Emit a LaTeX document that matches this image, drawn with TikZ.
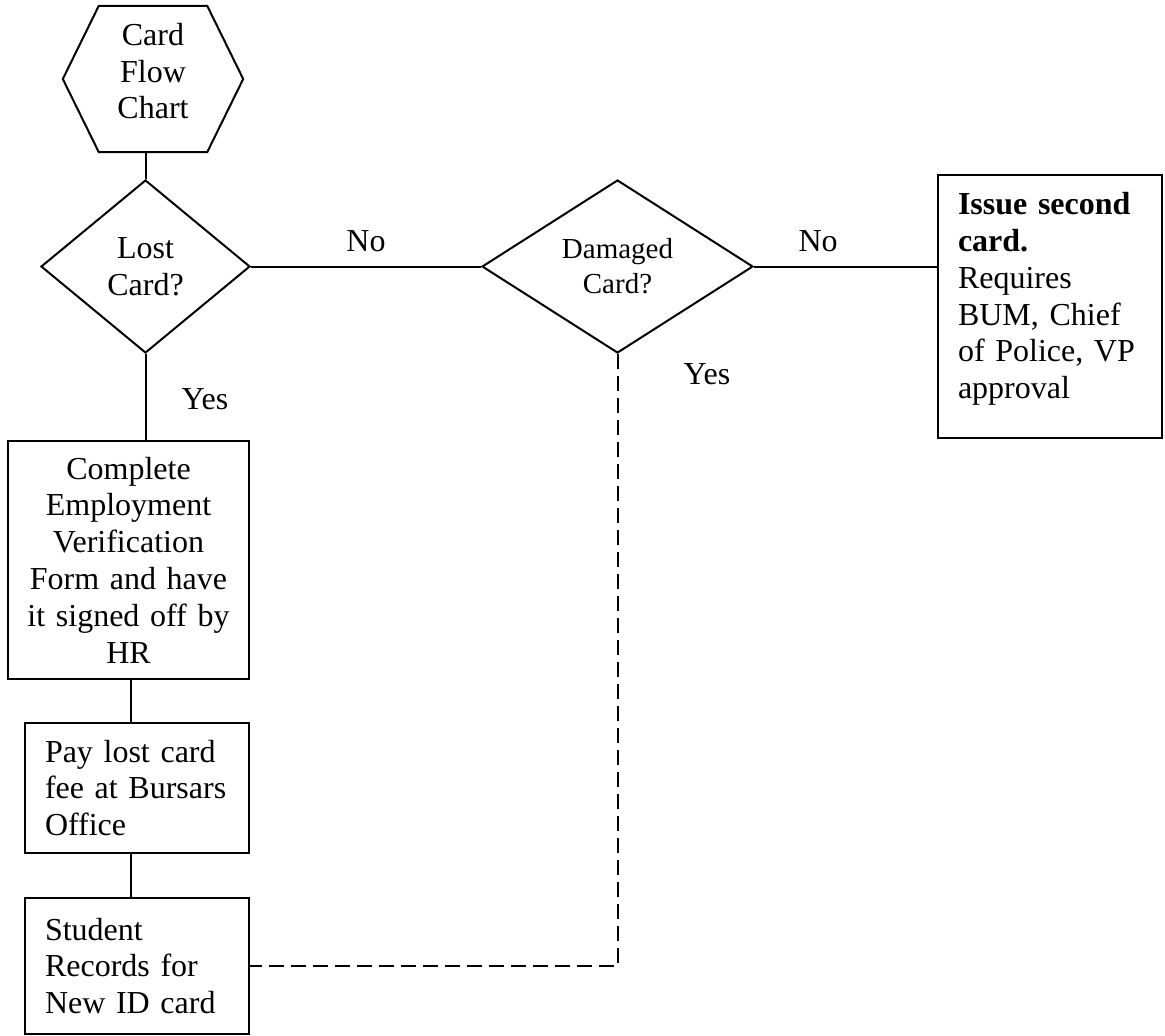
\documentclass[tikz,border=0pt]{standalone}
\usepackage{fontspec}
\setmainfont[WordSpace=0.8]{Liberation Serif}
\usetikzlibrary{shapes.geometric}
\begin{document}
\begin{tikzpicture}[x=1pt,y=-1pt,
  every node/.style={font=\fontsize{32}{36.8}\selectfont},
  conn/.style={line width=2pt},
  dashconn/.style={line width=2pt, dash pattern=on 15pt off 7pt},
  boxnode/.style={draw, line width=2pt, rectangle, inner ysep=0pt},
  decision/.style={draw, line width=2pt, diamond, inner sep=0pt, align=center},
  lbl/.style={inner sep=0pt}]
\useasboundingbox (0,0) rectangle (1165,1036);

% start hexagon
\node[inner sep=0pt, minimum width=180pt, minimum height=146pt, align=center] (start) at (153,79) {Card\\Flow\\Chart\rule[-16pt]{0pt}{0pt}};
\draw[conn, line join=miter] (start.west) -- ([xshift=36pt]start.north west) -- ([xshift=-36pt]start.north east) -- (start.east) -- ([xshift=-36pt]start.south east) -- ([xshift=36pt]start.south west) -- cycle;

% decisions
\node[decision, minimum width=209pt, minimum height=173pt] (lost) at (145.5,266.5) {Lost\\Card?};
\node[decision, minimum width=271pt, minimum height=173pt, font=\fontsize{29}{35}\selectfont] (damaged) at (617.5,266.5) {Damaged\\Card?};

% boxes
\node[boxnode, minimum width=224pt, minimum height=263pt, inner xsep=20pt, text width=184pt, align=left] (issue) at (1050,306.5) {\textbf{Issue second}\\\textbf{card.}\\Requires\\BUM, Chief\\of Police, VP\\approval\rule[-22pt]{0pt}{0pt}};
\node[boxnode, minimum width=241pt, minimum height=238pt, inner xsep=10pt, text width=221pt, align=center] (complete) at (128.5,560) {Complete\\Employment\\Verification\\Form and have\\it signed off by\\HR};
\node[boxnode, minimum width=224pt, minimum height=130pt, inner xsep=20pt, text width=184pt, align=left] (pay) at (137,788) {Pay lost card\\fee at Bursars\\Office};
\node[boxnode, minimum width=224pt, minimum height=136pt, inner xsep=20pt, text width=184pt, align=left] (student) at (137,966) {Student\\Records for\\New ID card};

% connectors
\draw[conn] (start.south -| lost.north) -- (lost.north);
\draw[conn] (lost.east) -- node[lbl, above=14pt] (no1) {No} (damaged.west);
\draw[conn] (damaged.east) -- node[lbl, above=14pt, pos=0.35] (no2) {No} (damaged.east -| issue.west);
\draw[conn] (lost.south) -- (lost.south |- complete.north);
\node[lbl, anchor=base west] (yes1) at ([xshift=36pt,yshift=-55pt]lost.south) {Yes};
\draw[conn] ([xshift=2.5pt]complete.south) -- ([xshift=2.5pt]complete.south |- pay.north);
\draw[conn] ([xshift=-6pt]pay.south) -- ([xshift=-6pt]pay.south |- student.north);
\draw[dashconn] (damaged.south) |- (student.east);
\node[lbl, anchor=base west] (yes2) at ([xshift=66pt,yshift=-30pt]damaged.south) {Yes};
\end{tikzpicture}
\end{document}
